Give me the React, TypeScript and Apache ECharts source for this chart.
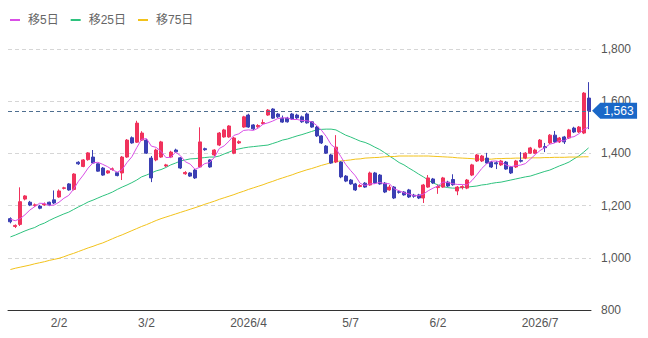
import React, { useEffect, useRef } from "react";
import * as echarts from "echarts";

// Trading days (month -> days)
const JAN = [19, 20, 21, 22, 23, 26, 27, 28, 29, 30];
const FEB = [2, 3, 4, 5, 6, 9, 10, 12, 13, 16, 17, 18, 19, 20, 24, 25, 26, 27];
const MAR = [2, 3, 4, 5, 6, 9, 10, 11, 12, 13, 16, 17, 18, 19, 23, 24, 25, 26, 27, 30, 31];
const APR = [1, 2, 3, 6, 7, 8, 9, 10, 13, 14, 15, 16, 17, 20, 21, 22, 23, 24, 27, 28, 30];
const MAY = [7, 8, 11, 12, 13, 14, 15, 18, 19, 20, 21, 22, 25, 26, 27, 28, 29];
const JUN = [1, 2, 3, 4, 5, 8, 9, 10, 11, 12, 15, 16, 17, 18, 19, 22, 23, 24, 25, 26, 29, 30];
const JUL = [1, 2, 3, 6, 7, 8, 9, 10, 13, 14, 15];

const TICK_LABELS: Record<string, string> = {
  "2026/2/2": "2/2",
  "2026/3/2": "3/2",
  "2026/4/1": "2026/4",
  "2026/5/7": "5/7",
  "2026/6/2": "6/2",
  "2026/7/1": "2026/7",
};

const OPEN = [
  1150, 1120, 1128, 1225, 1213, 1200, 1198, 1203, 1213, 1222,
  1233, 1266, 1283, 1262, 1366, 1350, 1376, 1386, 1360, 1344,
  1325, 1338, 1326, 1325, 1386, 1460, 1443, 1451, 1451, 1382,
  1375, 1386, 1352, 1386, 1413, 1383, 1322, 1325, 1336, 1348,
  1418, 1375, 1394, 1432, 1463, 1463, 1401, 1440, 1501, 1547,
  1509, 1502, 1514, 1547, 1570, 1551, 1535, 1535, 1551, 1547,
  1540, 1551, 1521, 1501, 1467, 1428, 1394, 1367, 1367, 1313,
  1298, 1283, 1273, 1286, 1279, 1325, 1317, 1286, 1260, 1271,
  1253, 1252, 1260, 1240, 1241, 1229, 1271, 1302, 1269, 1271,
  1290, 1300, 1256, 1269, 1267, 1317, 1371, 1371, 1382, 1367,
  1364, 1356, 1367, 1348, 1348, 1373, 1382, 1401, 1401, 1424,
  1426, 1440, 1470, 1444, 1463, 1459, 1497, 1482, 1478, 1612,
];
const CLOSE = [
  1138, 1124, 1215, 1237, 1202, 1203, 1190, 1206, 1202, 1210,
  1256, 1268, 1260, 1321, 1360, 1375, 1402, 1363, 1332, 1317,
  1333, 1341, 1315, 1386, 1451, 1440, 1516, 1478, 1401, 1306,
  1413, 1444, 1356, 1405, 1406, 1344, 1327, 1313, 1306, 1444,
  1414, 1348, 1413, 1478, 1490, 1505, 1459, 1445, 1540, 1501,
  1494, 1507, 1518, 1566, 1535, 1540, 1520, 1521, 1532, 1536,
  1521, 1517, 1501, 1467, 1440, 1401, 1363, 1424, 1310, 1294,
  1283, 1260, 1277, 1271, 1325, 1287, 1283, 1252, 1271, 1229,
  1251, 1241, 1233, 1236, 1229, 1279, 1306, 1287, 1273, 1306,
  1275, 1280, 1271, 1273, 1298, 1356, 1394, 1390, 1363, 1348,
  1360, 1371, 1340, 1325, 1371, 1370, 1401, 1421, 1413, 1451,
  1422, 1470, 1444, 1459, 1444, 1490, 1482, 1501, 1631, 1563,
];
const HIGH = [
  1155, 1128, 1270, 1240, 1218, 1208, 1203, 1212, 1215, 1258,
  1262, 1272, 1286, 1324, 1370, 1378, 1405, 1413, 1362, 1348,
  1336, 1346, 1328, 1390, 1455, 1465, 1525, 1485, 1455, 1390,
  1418, 1448, 1360, 1410, 1418, 1386, 1332, 1328, 1340, 1500,
  1422, 1378, 1416, 1482, 1494, 1508, 1463, 1450, 1544, 1552,
  1512, 1512, 1530, 1570, 1573, 1555, 1545, 1540, 1555, 1552,
  1545, 1556, 1524, 1505, 1470, 1432, 1398, 1470, 1370, 1317,
  1302, 1287, 1282, 1290, 1330, 1329, 1321, 1290, 1279, 1275,
  1258, 1255, 1264, 1245, 1245, 1283, 1317, 1306, 1280, 1310,
  1295, 1320, 1275, 1278, 1302, 1360, 1398, 1394, 1402, 1371,
  1370, 1375, 1371, 1352, 1375, 1405, 1405, 1425, 1418, 1455,
  1440, 1474, 1486, 1463, 1467, 1494, 1502, 1505, 1635, 1673,
];
const LOW = [
  1132, 1114, 1122, 1220, 1198, 1195, 1186, 1199, 1198, 1206,
  1230, 1262, 1257, 1258, 1356, 1347, 1372, 1360, 1330, 1314,
  1322, 1334, 1312, 1298, 1383, 1437, 1440, 1448, 1398, 1290,
  1370, 1383, 1348, 1382, 1402, 1340, 1318, 1310, 1302, 1344,
  1410, 1345, 1390, 1428, 1460, 1460, 1397, 1436, 1498, 1498,
  1490, 1498, 1510, 1544, 1532, 1536, 1517, 1518, 1528, 1532,
  1517, 1514, 1498, 1463, 1436, 1398, 1360, 1363, 1305, 1290,
  1280, 1256, 1270, 1268, 1276, 1284, 1280, 1248, 1257, 1225,
  1246, 1238, 1229, 1230, 1225, 1210, 1268, 1283, 1245, 1268,
  1271, 1276, 1240, 1262, 1263, 1313, 1367, 1367, 1360, 1344,
  1340, 1352, 1337, 1321, 1344, 1365, 1378, 1398, 1398, 1420,
  1405, 1436, 1440, 1440, 1436, 1455, 1478, 1478, 1474, 1493,
];
const MA5 = [
  1148, 1142, 1150, 1165, 1183, 1196, 1209, 1208, 1201, 1202,
  1213, 1228, 1239, 1263, 1293, 1317, 1344, 1364, 1366, 1358,
  1349, 1337, 1328, 1338, 1365, 1387, 1422, 1454, 1457, 1428,
  1423, 1408, 1384, 1385, 1405, 1391, 1368, 1359, 1339, 1347,
  1361, 1365, 1385, 1419, 1429, 1447, 1469, 1475, 1488, 1490,
  1488, 1497, 1512, 1517, 1524, 1533, 1536, 1536, 1530, 1530,
  1526, 1525, 1521, 1508, 1489, 1465, 1434, 1419, 1388, 1358,
  1335, 1314, 1285, 1277, 1283, 1284, 1289, 1284, 1284, 1264,
  1257, 1249, 1245, 1238, 1238, 1244, 1257, 1267, 1275, 1290,
  1289, 1284, 1281, 1281, 1279, 1296, 1318, 1342, 1360, 1370,
  1371, 1366, 1356, 1349, 1353, 1355, 1361, 1378, 1395, 1411,
  1422, 1435, 1440, 1449, 1448, 1461, 1464, 1475, 1492, 1500,
];
const MA25 = [
  1080, 1087, 1095, 1103, 1110, 1116, 1126, 1133, 1143, 1152,
  1160, 1168, 1175, 1185, 1195, 1204, 1214, 1221, 1229, 1237,
  1244, 1252, 1262, 1271, 1279, 1288, 1298, 1310, 1317, 1325,
  1333, 1338, 1346, 1356, 1363, 1371, 1375, 1379, 1380, 1382,
  1384, 1386, 1386, 1390, 1398, 1405, 1413, 1417, 1421, 1424,
  1426, 1428, 1430, 1432, 1438, 1444, 1451, 1455, 1461, 1467,
  1472, 1478, 1484, 1490, 1492, 1493, 1493, 1490, 1480, 1470,
  1463, 1455, 1447, 1442, 1434, 1424, 1415, 1403, 1390, 1378,
  1365, 1356, 1344, 1333, 1321, 1310, 1298, 1287, 1279, 1273,
  1269, 1267, 1267, 1269, 1271, 1273, 1275, 1279, 1281, 1285,
  1288, 1290, 1294, 1298, 1302, 1306, 1310, 1313, 1319, 1325,
  1331, 1336, 1344, 1352, 1359, 1367, 1379, 1390, 1405, 1421,
];
const MA75 = [
  955, 960, 964, 968, 972, 977, 981, 985, 990, 994,
  998, 1004, 1011, 1017, 1024, 1031, 1038, 1044, 1051, 1057,
  1065, 1073, 1081, 1088, 1096, 1104, 1112, 1120, 1127, 1135,
  1143, 1150, 1156, 1162, 1168, 1174, 1180, 1186, 1192, 1198,
  1205, 1211, 1217, 1224, 1230, 1236, 1242, 1249, 1255, 1262,
  1268, 1274, 1280, 1287, 1293, 1300, 1306, 1312, 1318, 1325,
  1331, 1337, 1342, 1348, 1354, 1359, 1365, 1369, 1371, 1373,
  1375, 1378, 1379, 1382, 1383, 1384, 1385, 1387, 1388, 1388,
  1390, 1390, 1390, 1390, 1390, 1390, 1390, 1389, 1388, 1387,
  1386, 1385, 1383, 1382, 1381, 1380, 1378, 1378, 1378, 1378,
  1380, 1380, 1381, 1381, 1382, 1382, 1382, 1383, 1383, 1383,
  1384, 1384, 1385, 1385, 1385, 1386, 1386, 1386, 1387, 1387,
];

const UP = "#f0325c";
const DOWN = "#3b3fb3";
const FONT = '"Liberation Sans", Arial, "Noto Sans CJK JP", sans-serif';

const fmt = (v: number) => v.toLocaleString("en-US");

export default function App() {
  const ref = useRef<HTMLDivElement>(null);

  useEffect(() => {
    document.body.style.margin = "0";
    if (!ref.current) return;
    const chart = echarts.init(ref.current, undefined, { renderer: "svg" });

    const months: [number, number[]][] = [
      [1, JAN], [2, FEB], [3, MAR], [4, APR], [5, MAY], [6, JUN], [7, JUL],
    ];
    const dates: string[] = [];
    months.forEach(([m, days]) => days.forEach((d) => dates.push(`2026/${m}/${d}`)));
    const ohlc = OPEN.map((o, i) => [o, CLOSE[i], LOW[i], HIGH[i]]);
    const last = CLOSE.length - 1;

    chart.setOption({
      animation: false,
      backgroundColor: "#ffffff",
      textStyle: { fontFamily: FONT },
      legend: {
        left: 5,
        top: 9,
        itemWidth: 10,
        itemHeight: 2,
        itemGap: 12,
        icon: "rect",
        selectedMode: false,
        textStyle: { color: "#666", fontSize: 12, fontFamily: FONT, padding: [0, 0, 0, 3] },
        data: ["移5日", "移25日", "移75日"],
      },
      grid: { left: 8, right: 57, top: 49, bottom: 28 },
      xAxis: {
        type: "category",
        data: dates,
        boundaryGap: true,
        axisLine: { lineStyle: { color: "#333", width: 1 } },
        axisTick: { show: false },
        splitLine: { show: false },
        axisLabel: {
          color: "#555",
          fontSize: 12,
          margin: 7,
          fontFamily: FONT,
          interval: (_i: number, v: string) => v in TICK_LABELS,
          formatter: (v: string) => TICK_LABELS[v] || "",
        },
      },
      yAxis: {
        type: "value",
        position: "right",
        min: 800,
        max: 1800,
        interval: 200,
        axisLine: { show: false },
        axisTick: { show: false },
        axisLabel: { color: "#555", fontSize: 12, margin: 10, fontFamily: FONT, formatter: fmt },
        splitLine: { lineStyle: { color: "#d6d6d6", type: [4, 3] } },
      },
      series: [
        {
          name: "株価",
          type: "candlestick",
          data: ohlc,
          barWidth: "72%",
          itemStyle: { color: UP, color0: DOWN, borderColor: UP, borderColor0: DOWN, borderWidth: 1 },
          markLine: {
            silent: true,
            symbol: ["none", "none"],
            label: { show: false },
            lineStyle: { type: [4, 3], color: "#4f6f90", width: 1 },
            data: [{ yAxis: CLOSE[last] }],
          },
          markPoint: {
            silent: true,
            symbol: "path://M0,8L8,0L44,0L44,16L8,16Z",
            symbolSize: [45, 16],
            symbolOffset: [26, 0],
            itemStyle: { color: "#1a68c8" },
            label: {
              show: true,
              position: "inside",
              offset: [4, 0],
              color: "#fff",
              fontSize: 12,
              fontFamily: FONT,
              formatter: () => fmt(CLOSE[last]),
            },
            data: [{ coord: [dates[last], CLOSE[last]] }],
          },
          z: 3,
        },
        {
          name: "移5日",
          type: "line",
          data: MA5,
          symbol: "none",
          lineStyle: { width: 1, color: "#d94fe6" },
          itemStyle: { color: "#d94fe6" },
          z: 4,
        },
        {
          name: "移25日",
          type: "line",
          data: MA25,
          symbol: "none",
          lineStyle: { width: 1, color: "#2ec27e" },
          itemStyle: { color: "#2ec27e" },
          z: 2,
        },
        {
          name: "移75日",
          type: "line",
          data: MA75,
          symbol: "none",
          lineStyle: { width: 1, color: "#f2c21b" },
          itemStyle: { color: "#f2c21b" },
          z: 2,
        },
      ],
    });

    return () => chart.dispose();
  }, []);

  return (
    <div
      ref={ref}
      style={{ position: "absolute", left: 0, top: 0, width: 648, height: 338 }}
    />
  );
}
